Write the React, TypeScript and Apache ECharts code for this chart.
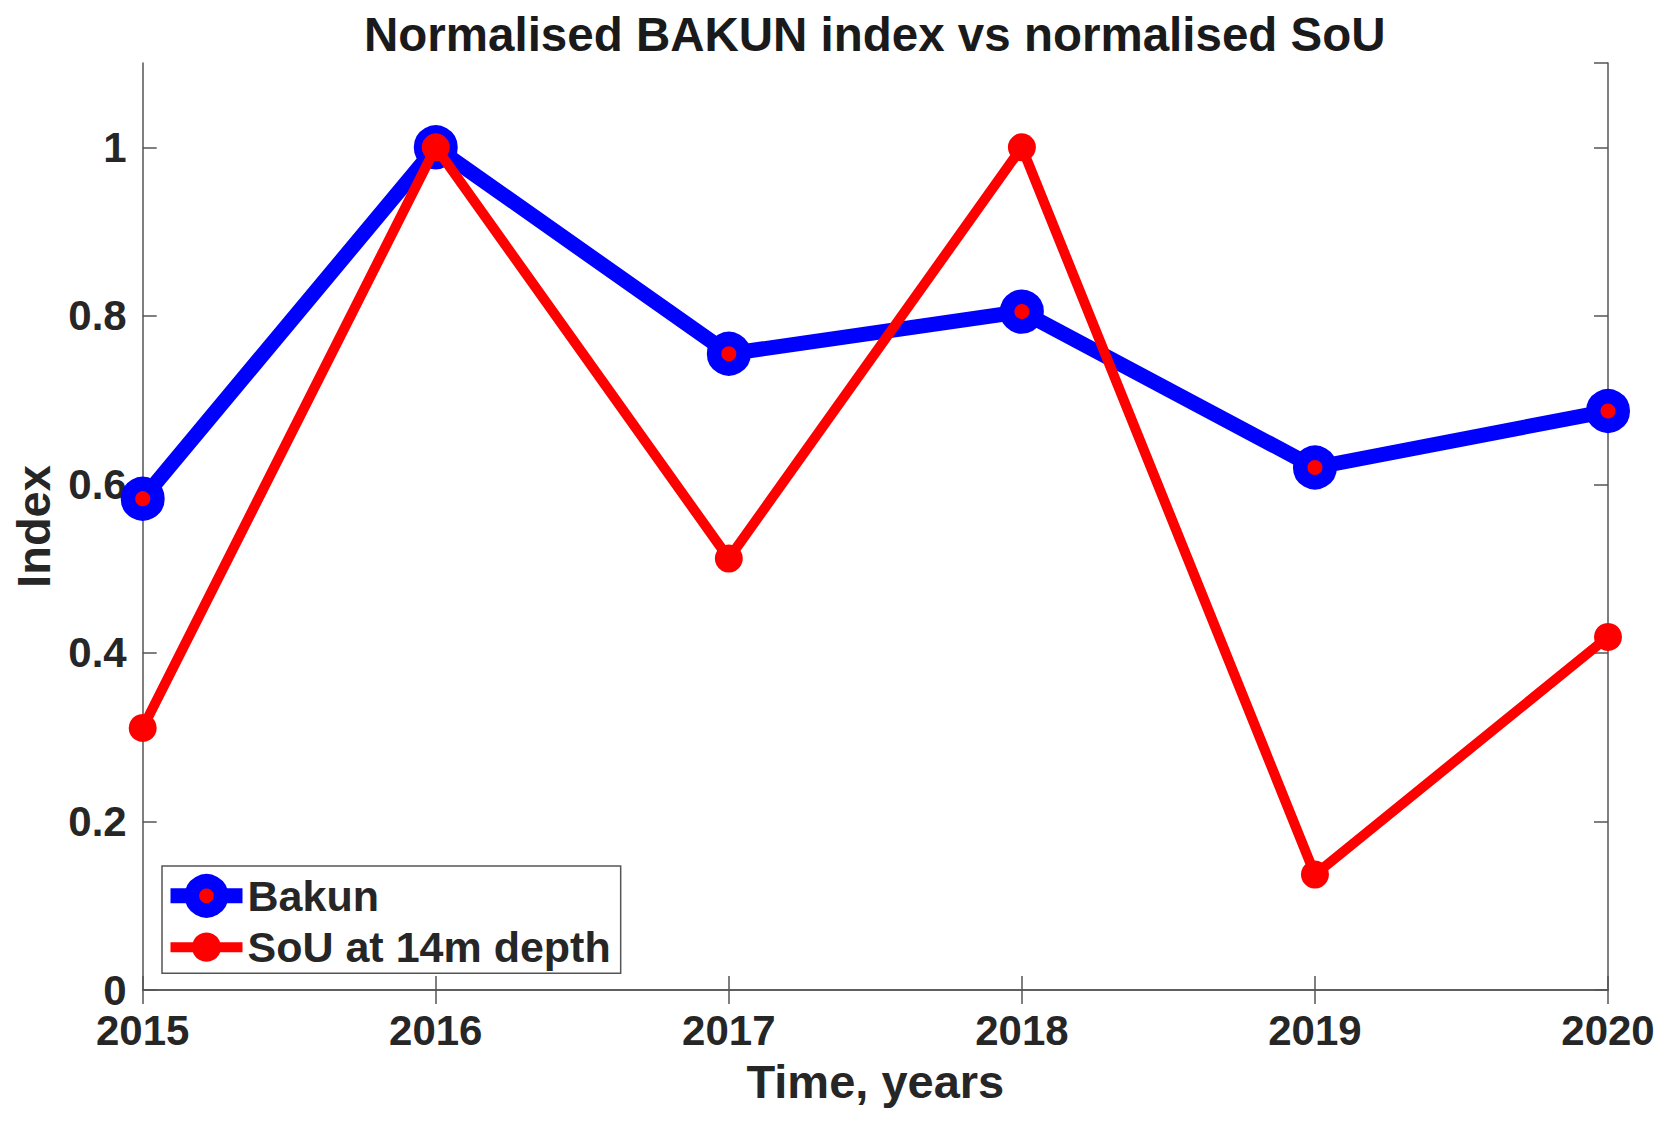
import React, { useEffect, useRef } from "react";
import * as echarts from "echarts";

const years = [2015, 2016, 2017, 2018, 2019, 2020];
const bakun = [0.583, 1.0, 0.755, 0.805, 0.62, 0.687];
const sou = [0.311, 1.0, 0.512, 1.0, 0.137, 0.419];
const seriesNames = ["Bakun", "SoU at 14m depth"];
const titleText = "Normalised BAKUN index vs normalised SoU";
const xName = "Time, years";
const yName = "Index";

const FONT = "'Liberation Sans', Arial, Helvetica, sans-serif";
const AXIS = "#555555";
const TXT = "#262626";
const BLUE = "#0000ff";
const RED = "#ff0000";

export default function App() {
  const ref = useRef<HTMLDivElement>(null);
  useEffect(() => {
    if (!ref.current) return;
    const chart = echarts.init(ref.current, undefined, { renderer: "svg" });
    const axisLine = { show: true, lineStyle: { color: AXIS, width: 1.5 } };
    const axisTick = { show: true, inside: true, length: 14, lineStyle: { color: AXIS, width: 1.5 } };
    const labelStyle = { fontSize: 42, fontWeight: "bold", color: TXT, fontFamily: FONT, lineHeight: 30 };
    const nameStyle = { fontSize: 47, fontWeight: "bold", color: TXT, fontFamily: FONT };
    const xBase = { type: "value", min: 2015, max: 2020, interval: 1, splitLine: { show: false }, axisLine, axisTick };
    const yBase = { type: "value", min: 0, max: 1.1, interval: 0.2, splitLine: { show: false }, axisLine, axisTick };
    chart.setOption({
      animation: false,
      backgroundColor: "#ffffff",
      title: {
        text: titleText,
        left: 364,
        top: 10.6,
        padding: 0,
        textStyle: { fontSize: 47.5, fontWeight: "bold", color: "#1a1a1a", fontFamily: FONT },
      },
      grid: { left: 142.7, right: 61, top: 63, bottom: 133 },
      xAxis: [
        {
          ...xBase,
          position: "bottom",
          axisLabel: { ...labelStyle, margin: 25, formatter: (v: number) => String(v) },
          name: xName,
          nameLocation: "middle",
          nameGap: 68,
          nameTextStyle: nameStyle,
        },
        { ...xBase, position: "top", axisLabel: { show: false } },
      ],
      yAxis: [
        {
          ...yBase,
          position: "left",
          axisLabel: { ...labelStyle, margin: 16, showMaxLabel: false },
          name: yName,
          nameLocation: "middle",
          nameGap: 86,
          nameTextStyle: nameStyle,
        },
        { ...yBase, position: "right", axisLabel: { show: false } },
      ],
      legend: {
        orient: "vertical",
        left: 162,
        top: 866,
        padding: [8, 10, 4.5, 1],
        itemGap: 8,
        itemWidth: 72,
        itemHeight: 36.5,
        backgroundColor: "#ffffff",
        borderColor: AXIS,
        borderWidth: 1.5,
        borderRadius: 0,
        selectedMode: false,
        textStyle: { fontSize: 43, fontWeight: "bold", color: TXT, fontFamily: FONT },
        data: [
          {
            name: seriesNames[0],
            itemStyle: { color: RED, borderColor: BLUE, borderWidth: 14.5 },
            lineStyle: { color: BLUE, width: 15 },
          },
          {
            name: seriesNames[1],
            itemStyle: { color: RED, borderWidth: 0 },
            lineStyle: { color: RED, width: 10 },
          },
        ],
      },
      series: [
        {
          type: "line",
          name: seriesNames[0],
          data: years.map((y, i) => [y, bakun[i]]),
          symbol: "circle",
          symbolSize: 29.5,
          clip: false,
          lineStyle: { color: BLUE, width: 15 },
          itemStyle: { color: RED, borderColor: BLUE, borderWidth: 14.5 },
          z: 2,
        },
        {
          type: "line",
          name: seriesNames[1],
          data: years.map((y, i) => [y, sou[i]]),
          symbol: "circle",
          symbolSize: 28,
          clip: false,
          lineStyle: { color: RED, width: 10 },
          itemStyle: { color: RED, borderWidth: 0 },
          z: 3,
        },
      ],
    });
    return () => chart.dispose();
  }, []);
  return (
    <div
      ref={ref}
      style={{ position: "absolute", left: 0, top: 0, width: 1669, height: 1123 }}
    />
  );
}
